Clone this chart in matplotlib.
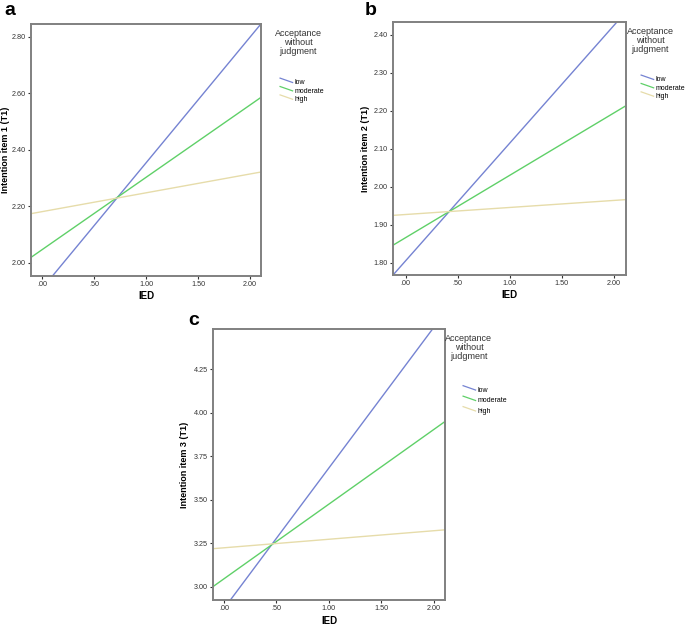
import matplotlib
matplotlib.use('Agg')
import matplotlib.pyplot as plt
from matplotlib.ticker import FuncFormatter, FixedLocator
from matplotlib.legend_handler import HandlerBase
from matplotlib.lines import Line2D

plt.rcParams['font.family'] = ['Liberation Sans', 'DejaVu Sans']

# predicted Intention at IED = 0 and IED = 2, per level of acceptance
ied_points = [0.0, 2.0]
groups = ['low', 'moderate', 'high']

item1 = {'low': [1.910, 2.798], 'moderate': [2.047, 2.558], 'high': [2.181, 2.314]}
item2 = {'low': [1.805, 2.424], 'moderate': [1.866, 2.194], 'high': [1.927, 1.964]}
item3 = {'low': [2.874, 4.490], 'moderate': [3.045, 3.903], 'high': [3.223, 3.321]}

x_ticks = [0.0, 0.5, 1.0, 1.5, 2.0]
y_ticks1 = [2.00, 2.20, 2.40, 2.60, 2.80]
y_ticks2 = [1.80, 1.90, 2.00, 2.10, 2.20, 2.30, 2.40]
y_ticks3 = [3.00, 3.25, 3.50, 3.75, 4.00, 4.25]

colors = {'low': '#7583d2', 'moderate': '#5fd068', 'high': '#e6dcaa'}


class SlantHandler(HandlerBase):
    # SPSS draws the legend keys as short slanted strokes
    def create_artists(self, legend, orig_handle, xdescent, ydescent,
                       width, height, fontsize, trans):
        ln = Line2D([-xdescent, width - xdescent],
                    [height * 1.3 - ydescent, height * 0.4 - ydescent],
                    color=orig_handle.get_color(), linewidth=0.9)
        ln.set_transform(trans)
        return [ln]


def spss_fmt(v, pos):
    s = '{:.2f}'.format(v)
    if s.startswith('0.'):
        s = s[1:]
    return s


def draw_panel(fig, rect, data, yticks, ylim, xlim, ylabel, ylab_x, xlab_y,
               title_x, leg_xy, leg_space, letter, letter_xy):
    ax = fig.add_axes(rect)
    for g in groups:
        ax.axline((ied_points[0], data[g][0]), (ied_points[1], data[g][1]),
                  color=colors[g], linewidth=1.0, label=g)
    ax.set_xlim(xlim)
    ax.set_ylim(ylim)
    ax.xaxis.set_major_locator(FixedLocator(x_ticks))
    ax.yaxis.set_major_locator(FixedLocator(yticks))
    ax.xaxis.set_major_formatter(FuncFormatter(spss_fmt))
    ax.yaxis.set_major_formatter(FuncFormatter(spss_fmt))
    ax.tick_params(labelsize=5.2, length=2.5, width=0.8, color='#333333',
                   labelcolor='#333333', pad=1.2)
    for sp in ax.spines.values():
        sp.set_color('#808080')
        sp.set_linewidth(1.4)
    ax.set_xlabel('IED', fontsize=7, fontweight='bold')
    ax.set_ylabel(ylabel, fontsize=6.5, fontweight='bold')
    ax.yaxis.set_label_coords(ylab_x, 0.5)
    ax.xaxis.set_label_coords(0.5, xlab_y)
    ax.text(title_x, 0.982, 'Acceptance\nwithout\njudgment', transform=ax.transAxes,
            ha='center', va='top', fontsize=6.5, color='#333333', linespacing=1.0)
    ax.legend(loc='upper left', bbox_to_anchor=leg_xy, frameon=False,
              fontsize=5.0, handlelength=1.8, handletextpad=0.25,
              labelspacing=leg_space, borderaxespad=0, borderpad=0,
              handler_map={Line2D: SlantHandler()})
    fig.text(letter_xy[0], letter_xy[1], letter, fontsize=14, fontweight='bold',
             ha='left', va='top')
    return ax


fig = plt.figure(figsize=(6.85, 6.26), dpi=100)

draw_panel(fig, [31 / 685, 350 / 626, 230 / 685, 252 / 626], item1, y_ticks1,
           (1.953, 2.845), (-0.11, 2.107), 'Intention item 1 (T1)',
           -0.09, -0.06, 1.161, (1.083, 0.78), 0.2, 'a',
           (4 / 685, 1 - 2 / 626))
draw_panel(fig, [393 / 685, 351 / 626, 233 / 685, 253 / 626], item2, y_ticks2,
           (1.768, 2.433), (-0.12, 2.116), 'Intention item 2 (T1)',
           -0.1, -0.06, 1.103, (1.065, 0.785), 0.2, 'b',
           (365 / 685, 1 - 2 / 626))
draw_panel(fig, [213 / 685, 26 / 626, 232 / 685, 271 / 626], item3, y_ticks3,
           (2.923, 4.48), (-0.105, 2.106), 'Intention item 3 (T1)',
           -0.105, -0.059, 1.103, (1.078, 0.786), 0.5, 'c',
           (188 / 685, 1 - 312 / 626))

fig.savefig('out.png', dpi=100)
